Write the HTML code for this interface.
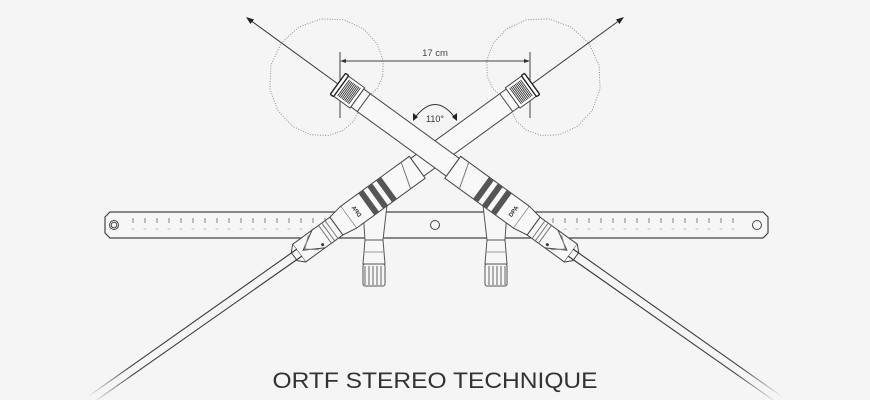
<!DOCTYPE html>
<html><head><meta charset="utf-8"><style>
html,body{margin:0;padding:0;background:#f5f5f5;}
svg{display:block;}
</style></head><body>
<svg width="870" height="400" viewBox="0 0 870 400" xmlns="http://www.w3.org/2000/svg">
<defs>
  <linearGradient id="fadeR" gradientUnits="userSpaceOnUse" x1="571" y1="253" x2="780" y2="400">
    <stop offset="0" stop-color="#333"/><stop offset="0.8" stop-color="#444"/><stop offset="1" stop-color="#f5f5f5"/>
  </linearGradient>
  <linearGradient id="fadeL" gradientUnits="userSpaceOnUse" x1="299" y1="253" x2="90" y2="400">
    <stop offset="0" stop-color="#333"/><stop offset="0.8" stop-color="#444"/><stop offset="1" stop-color="#f5f5f5"/>
  </linearGradient>
  <g id="card">
    <path d="M76,0 L72.2,19.3 L61.4,35.5 L45.9,45.9 L28.5,49.4 L12.4,46.2 L0,38 L-7.3,27.2 L-9.5,16.5 L-7.9,7.9 L-4.4,2.5 L0,0 L-4.4,-2.5 L-7.9,-7.9 L-9.5,-16.5 L-7.3,-27.2 L0,-38 L12.4,-46.2 L28.5,-49.4 L45.9,-45.9 L61.4,-35.5 L72.2,-19.3 Z" fill="none" stroke="#8a8a8a" stroke-width="0.8" stroke-dasharray="0.8 1.3" stroke-linejoin="round"/>
  </g>
  <g id="holder" stroke="#555" stroke-width="1" fill="#f7f7f7">
    <path d="M483,205 L507,210 L505,240 L507,264 L485,264 L487,240 Z"/>
    <line x1="487" y1="240" x2="505" y2="240"/>
    <line x1="486" y1="252" x2="506" y2="252" stroke="#999"/>
    <rect x="485" y="264" width="22" height="22" rx="2"/>
    <path d="M489,266 V285 M493,266 V285 M497,266 V285 M501,266 V285 M505,266 V285" stroke="#666"/>
  </g>
  <g id="mic" stroke="#444" stroke-width="1" fill="#f8f8f8">
    <rect x="22" y="-11" width="118" height="22"/>
    <line x1="30" y1="-11" x2="30" y2="11"/>
    <path d="M140,-13.5 L225,-13.5 L225,13.5 L140,13.5 Z"/>
    <line x1="150" y1="-13.5" x2="158" y2="13.5" stroke="#777"/>
    <rect x="175" y="-13.5" width="6" height="27" fill="#555" stroke="none"/>
    <rect x="186" y="-13.5" width="6" height="27" fill="#555" stroke="none"/>
    <rect x="197" y="-13.5" width="6" height="27" fill="#555" stroke="none"/>
    <text x="0" y="0" transform="translate(215,0) rotate(-90)" text-anchor="middle" font-family="Liberation Sans, sans-serif" font-size="6" font-weight="bold" fill="#333" stroke="none" dy="2">DPA</text>
    <path d="M225,-13.5 L240,-11 L240,11 L225,13.5"/>
    <rect x="240" y="-11" width="46" height="22"/>
    <path d="M246,-11 V11 M250,-11 V11 M254,-11 V11" stroke="#777"/>
    <path d="M262,-11 L281,0 L262,11" fill="none"/>
    <path d="M268,-9 L279,0 L268,9" fill="none" stroke="#888"/>
    <circle cx="262" cy="7" r="1.5" fill="#333" stroke="none"/>
    <path d="M286,-11 L292,-5 L292,5 L286,11"/>
    <rect x="0" y="-12.5" width="22" height="25" fill="#fff"/>
    <path d="M5,-10 V10 M6.7,-10 V10 M8.4,-10 V10 M10.1,-10 V10 M11.8,-10 V10 M13.5,-10 V10 M15.2,-10 V10 M16.9,-10 V10 M18.6,-10 V10" stroke="#333" stroke-width="0.9"/>
    <rect x="-2" y="-13" width="4" height="26" fill="#fff" stroke="#222" stroke-width="1.4" rx="1"/>
  </g>
</defs>

<!-- cardioids -->
<use href="#card" transform="translate(356,98) rotate(216) scale(1.22)"/>
<use href="#card" transform="translate(514,98) rotate(-36) scale(1.22)"/>

<!-- dimension -->
<g stroke="#444" stroke-width="1" fill="none">
  <line x1="340" y1="52" x2="340" y2="118"/>
  <line x1="530" y1="52" x2="530" y2="118"/>
  <line x1="342" y1="61" x2="528" y2="61"/>
</g>
<path d="M340,61 L346,59 L346,63 Z M530,61 L524,59 L524,63 Z" fill="#333"/>
<text x="435" y="56" text-anchor="middle" font-family="Liberation Sans, sans-serif" font-size="9.5" fill="#444">17 cm</text>

<!-- bar -->
<path d="M110,212 H763 L768,217 V233 L763,238 H110 L105,233 V217 Z" fill="#f6f6f6" stroke="#444" stroke-width="1.2"/>
<circle cx="114" cy="225" r="4.5" fill="none" stroke="#444"/>
<circle cx="114" cy="225" r="2.8" fill="none" stroke="#444"/>
<circle cx="757" cy="225" r="4.5" fill="none" stroke="#444"/>
<circle cx="435" cy="225" r="4.5" fill="none" stroke="#444"/>
<g stroke="#666" stroke-width="0.8">
<path d="M133,218V223 M145,218V223 M157,218V223 M169,218V223 M181,218V223 M193,218V223 M205,218V223 M217,218V223 M229,218V223 M241,218V223 M253,218V223 M265,218V223 M277,218V223 M289,218V223 M301,218V223 M313,218V223 M325,218V223 M337,218V223 M349,218V223 M529,218V223 M541,218V223 M553,218V223 M565,218V223 M577,218V223 M589,218V223 M601,218V223 M613,218V223 M625,218V223 M637,218V223 M649,218V223 M661,218V223 M673,218V223 M685,218V223 M697,218V223 M709,218V223 M721,218V223 M733,218V223"/>
</g>
<g stroke="#aaa" stroke-width="0.8">
<path d="M131.5,229h3 M143.5,229h3 M155.5,229h3 M167.5,229h3 M179.5,229h3 M191.5,229h3 M203.5,229h3 M215.5,229h3 M227.5,229h3 M239.5,229h3 M251.5,229h3 M263.5,229h3 M275.5,229h3 M287.5,229h3 M299.5,229h3 M311.5,229h3 M323.5,229h3 M335.5,229h3 M347.5,229h3 M527.5,229h3 M539.5,229h3 M551.5,229h3 M563.5,229h3 M575.5,229h3 M587.5,229h3 M599.5,229h3 M611.5,229h3 M623.5,229h3 M635.5,229h3 M647.5,229h3 M659.5,229h3 M671.5,229h3 M683.5,229h3 M695.5,229h3 M707.5,229h3 M719.5,229h3 M731.5,229h3"/>
</g>

<!-- holders -->
<use href="#holder"/>
<use href="#holder" transform="translate(870,0) scale(-1,1)"/>

<!-- mic B (right capsule), behind -->
<use href="#mic" transform="translate(530.5,85) scale(-1,1) rotate(36)"/>
<!-- mic A -->
<use href="#mic" transform="translate(339.5,85) rotate(36)"/>

<!-- axis arrows -->
<g stroke="#333" stroke-width="1">
  <line x1="250" y1="20" x2="338" y2="84"/>
  <line x1="620" y1="20" x2="532" y2="84"/>
</g>
<path d="M246,17 L254,19.5 L250.5,24 Z" fill="#222"/>
<path d="M624,17 L616,19.5 L619.5,24 Z" fill="#222"/>

<!-- angle -->
<path d="M414,119 Q435,90 456,119" fill="none" stroke="#333" stroke-width="1"/>
<path d="M413,121 L413,113 L418,117 Z M457,121 L457,113 L452,117 Z" fill="#222"/>
<text x="435" y="122" text-anchor="middle" font-family="Liberation Sans, sans-serif" font-size="9" fill="#333">110°</text>

<!-- cables -->
<g stroke-width="1.1" fill="none">
  <line x1="573" y1="249" x2="784" y2="398" stroke="url(#fadeR)"/>
  <line x1="568" y1="256" x2="776" y2="402" stroke="url(#fadeR)"/>
  <line x1="297" y1="249" x2="86" y2="398" stroke="url(#fadeL)"/>
  <line x1="302" y1="256" x2="94" y2="402" stroke="url(#fadeL)"/>
</g>

<text x="435" y="388" text-anchor="middle" textLength="325" lengthAdjust="spacingAndGlyphs" font-family="Liberation Sans, sans-serif" font-size="22" fill="#333">ORTF STEREO TECHNIQUE</text>
</svg>
</body></html>
